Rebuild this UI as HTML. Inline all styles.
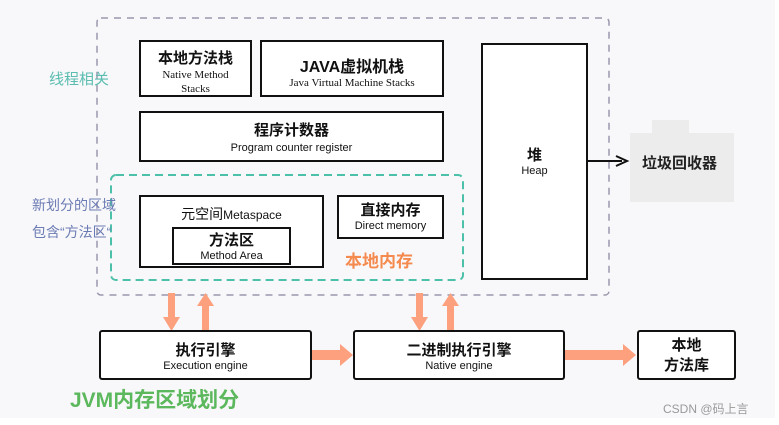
<!DOCTYPE html>
<html><head><meta charset="utf-8"><style>
body{margin:0;width:779px;height:425px;background:#fff;overflow:hidden;position:relative;font-family:"Liberation Sans","Noto Sans CJK SC",sans-serif}
.bg{position:absolute;left:0;top:0;width:775px;height:418px;background:#f8f8fb}
.b{position:absolute;background:#fff;border:2px solid #111;box-sizing:border-box;text-align:center;color:#111}
.cn{font-weight:bold;font-size:15px}
.en{font-size:11px}
.t{position:absolute;white-space:nowrap}
svg{position:absolute;left:0;top:0}
</style></head><body>
<div class="bg"></div>
<svg width="779" height="425">
<rect x="97" y="18" width="512" height="277" rx="4" fill="none" stroke="#9a98ad" stroke-width="1.5" stroke-dasharray="7,6"/>
<rect x="111" y="175" width="352" height="105" rx="5" fill="none" stroke="#4cc0a8" stroke-width="2" stroke-dasharray="8,5"/>
<rect x="652" y="120" width="37" height="14" fill="#ececec"/>
<rect x="630" y="133" width="104" height="69" fill="#ececec"/>
<line x1="587" y1="161" x2="622" y2="161" stroke="#111" stroke-width="2"/>
<polyline points="616,156 627,161 616,166" fill="none" stroke="#111" stroke-width="2"/>
<g fill="#fca07e">
<rect x="168" y="293" width="7" height="25"/><polygon points="163,317 180,317 171.5,331"/>
<rect x="202" y="305" width="7" height="26"/><polygon points="197,306 214,306 205.5,293"/>
<rect x="416" y="293" width="7" height="25"/><polygon points="411,317 428,317 419.5,331"/>
<rect x="447" y="305" width="7" height="26"/><polygon points="442,306 459,306 450.5,293"/>
<rect x="311" y="350" width="30" height="10"/><polygon points="340,344 340,366 353,355"/>
<rect x="564" y="350" width="60" height="10"/><polygon points="623,344 623,366 636,355"/>
</g>
</svg>
<div class="b" style="left:139px;top:40px;width:113px;height:57px"><div class="cn" style="margin-top:5px">本地方法栈</div><div style="font-family:'Liberation Serif',serif;font-size:11px;line-height:14px">Native Method<br>Stacks</div></div>
<div class="b" style="left:260px;top:40px;width:184px;height:57px"><div class="cn" style="margin-top:11px;font-size:16px">JAVA虚拟机栈</div><div style="font-family:'Liberation Serif',serif;font-size:11px">Java Virtual Machine Stacks</div></div>
<div class="b" style="left:139px;top:111px;width:305px;height:51px"><div class="cn" style="margin-top:6px">程序计数器</div><div class="en" style="margin-top:2px">Program counter register</div></div>
<div class="b" style="left:139px;top:195px;width:185px;height:73px"><div style="font-size:14px;margin-top:7px">元空间<span style="font-size:12px">Metaspace</span></div></div>
<div class="b" style="left:172px;top:227px;width:119px;height:38px"><div class="cn" style="margin-top:0">方法区</div><div class="en">Method Area</div></div>
<div class="b" style="left:337px;top:195px;width:107px;height:44px"><div class="cn" style="margin-top:2px">直接内存</div><div class="en">Direct memory</div></div>
<div class="t" style="left:345px;top:247px;color:#f58a4f;font-size:17px;font-weight:bold">本地内存</div>
<div class="b" style="left:481px;top:43px;width:107px;height:237px"><div class="cn" style="margin-top:99px">堆</div><div class="en">Heap</div></div>
<div class="t" style="left:642px;top:152px;font-weight:bold;font-size:15px;color:#222">垃圾回收器</div>
<div class="b" style="left:99px;top:330px;width:213px;height:50px;border-radius:3px"><div class="cn" style="margin-top:7px">执行引擎</div><div class="en">Execution engine</div></div>
<div class="b" style="left:353px;top:330px;width:212px;height:50px;border-radius:3px"><div class="cn" style="margin-top:7px">二进制执行引擎</div><div class="en">Native engine</div></div>
<div class="b" style="left:637px;top:330px;width:99px;height:50px;border-radius:3px"><div class="cn" style="margin-top:4px;line-height:20px">本地<br>方法库</div></div>
<div class="t" style="left:49px;top:68px;color:#5bbdb0;font-size:15px">线程相关</div>
<div class="t" style="left:32px;top:195px;color:#6b7bb3;font-size:14px">新划分的区域</div>
<div class="t" style="left:32px;top:222px;color:#6b7bb3;font-size:14px">包含“方法区“</div>
<div class="t" style="left:70px;top:384px;color:#5cb85c;font-size:21px;font-weight:bold">JVM内存区域划分</div>
<div class="t" style="left:663px;top:400px;color:#999;font-size:12px">CSDN @码上言</div>
</body></html>
